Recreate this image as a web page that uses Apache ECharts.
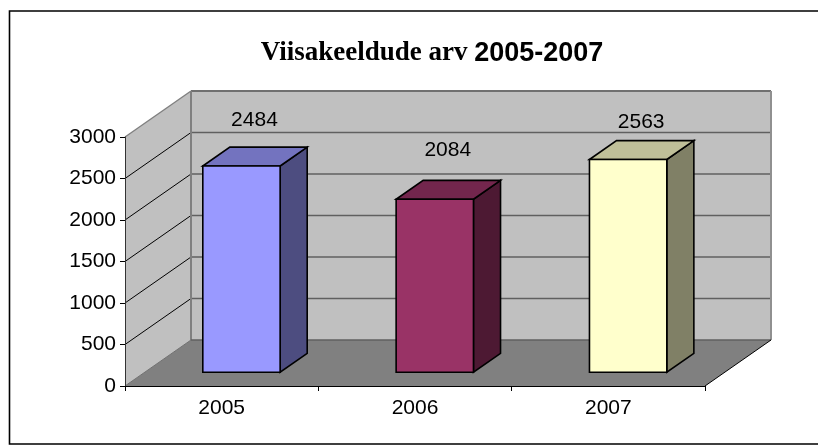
<!DOCTYPE html>
<html>
<head>
<meta charset="utf-8">
<style>html,body{margin:0;padding:0;background:#fff}#c{width:818px;height:448px}</style>
<script src="https://cdn.jsdelivr.net/npm/echarts@6/dist/echarts.min.js"></script>
</head>
<body>
<div id="c"></div>
<script>
const categories = ['2005', '2006', '2007'];
const values = [2484, 2084, 2563];
const yTicks = [0, 500, 1000, 1500, 2000, 2500, 3000];
const frontColors = ['#9999FF', '#993366', '#FFFFCC'];
const topColors = ['#7373BF', '#73264D', '#BFBF99'];
const sideColors = ['#4D4D80', '#4D1933', '#808066'];

// Oblique projection of the depth axis, in pixels
const DEPTH = { x: 66, y: -46 };
const GAP = 0.3;      // share of the floor depth in front of a bar
const BAR_DEPTH = 0.41;
const BAR_WIDTH = 0.4;
const labelRaise = [46, 49, 37];

function poly(points, fill, stroke, width, z2) {
  return {
    type: 'polygon', z2: z2 || 0,
    shape: { points: points },
    style: { fill: fill, stroke: stroke || null, lineWidth: width || 0, lineJoin: 'miter' }
  };
}
function line(a, b, stroke, width, z2) {
  return {
    type: 'line', z2: z2 || 0,
    shape: { x1: a[0], y1: a[1], x2: b[0], y2: b[1] },
    style: { stroke: stroke, lineWidth: width }
  };
}

function renderWalls(params, api) {
  const cs = params.coordSys;
  const L = cs.x, R = cs.x + cs.width;
  const y0 = api.coord([0, 0])[1];
  const yT = api.coord([0, 3000])[1];
  const dx = DEPTH.x, dy = DEPTH.y;
  const kids = [
    poly([[L + dx, yT + dy], [R + dx, yT + dy], [R + dx, y0 + dy], [L + dx, y0 + dy]], '#C0C0C0'),
    poly([[L, yT], [L + dx, yT + dy], [L + dx, y0 + dy], [L, y0]], '#C0C0C0'),
    poly([[L, y0], [L + dx, y0 + dy], [R + dx, y0 + dy], [R, y0]], '#808080')
  ];
  yTicks.forEach(function (t) {
    const y = api.coord([0, t])[1];
    if (t > 0 && t < 3000) {
      kids.push(line([L + dx, y + dy], [R + dx, y + dy], '#606060', 1.4, 1));
      kids.push(line([L, y], [L + dx, y + dy], '#000000', 1, 1));
    }
  });
  kids.push(line([L, yT], [L + dx, yT + dy], '#808080', 1.4, 2));
  kids.push(line([L + dx, yT + dy], [R + dx, yT + dy], '#707070', 2, 2));
  kids.push(line([L + dx, yT + dy], [L + dx, y0 + dy], '#808080', 2, 2));
  kids.push(line([R + dx, yT + dy], [R + dx, y0 + dy], '#909090', 2, 2));
  kids.push(line([L, y0], [L + dx, y0 + dy], '#707070', 1, 2));
  kids.push(line([L + dx, y0 + dy], [R + dx, y0 + dy], '#606060', 1.4, 2));
  kids.push(line([R, y0], [R + dx, y0 + dy], '#000000', 1, 2));
  return { type: 'group', children: kids };
}

function renderBar(params, api) {
  const i = api.value(0);
  const v = api.value(1);
  const top = api.coord([i, v]);
  const base = api.coord([i, 0]);
  const w = api.size([1, 0])[0] * BAR_WIDTH;
  const ox = DEPTH.x * GAP, oy = DEPTH.y * GAP;
  const ddx = DEPTH.x * BAR_DEPTH, ddy = DEPTH.y * BAR_DEPTH;
  const l = top[0] + ox - w / 2, r = l + w;
  const t = top[1] + oy, b = base[1] + oy;
  const lw = 1.6;
  return {
    type: 'group',
    children: [
      poly([[r, t], [r + ddx, t + ddy], [r + ddx, b + ddy], [r, b]], sideColors[i], '#000', lw),
      poly([[l, t], [l + ddx, t + ddy], [r + ddx, t + ddy], [r, t]], topColors[i], '#000', lw),
      poly([[l, t], [r, t], [r, b], [l, b]], frontColors[i], '#000', lw),
      {
        type: 'text', z2: 5,
        style: {
          x: (l + r) / 2 + 13, y: t - labelRaise[i],
          text: String(v), align: 'center', verticalAlign: 'middle',
          font: '21px "Liberation Sans"', fill: '#000'
        }
      }
    ]
  };
}

const chart = echarts.init(document.getElementById('c'), null, { renderer: 'canvas' });
chart.setOption({
  animation: false,
  backgroundColor: '#fff',
  title: {
    left: 427, top: 35, textAlign: 'center',
    text: '{a|Viisakeeldude arv }{b|2005-2007}',
    textStyle: {
      rich: {
        a: { fontFamily: 'Liberation Serif', fontWeight: 'bold', fontSize: 27, color: '#000' },
        b: { fontFamily: 'Liberation Sans', fontWeight: 'bold', fontSize: 27, color: '#000' }
      }
    }
  },
  graphic: [{
    type: 'rect', silent: true, z: -1,
    shape: { x: 9.5, y: 11, width: 830, height: 433 },
    style: { fill: 'none', stroke: '#000', lineWidth: 1.6 }
  }],
  grid: { left: 125, right: 113, top: 137, bottom: 62, containLabel: false },
  xAxis: {
    type: 'category', data: categories, z: 2,
    axisLine: { show: true, lineStyle: { color: '#000', width: 1 } },
    axisTick: { show: true, length: 5, alignWithLabel: false, lineStyle: { color: '#000' } },
    axisLabel: { color: '#000', fontFamily: 'Liberation Sans', fontSize: 21, margin: 12, interval: 0 },
    splitLine: { show: false }
  },
  yAxis: {
    type: 'value', min: 0, max: 3000, interval: 500, z: 2,
    axisLine: { show: true, lineStyle: { color: '#333', width: 1 } },
    axisTick: { show: true, length: 5, lineStyle: { color: '#000' } },
    axisLabel: { color: '#000', fontFamily: 'Liberation Sans', fontSize: 21, margin: 9, padding: [3, 0, 0, 0], formatter: function (v) { return String(v); } },
    splitLine: { show: false }
  },
  series: [
    { type: 'custom', z: 1, silent: true, renderItem: renderWalls, data: [[0, 0]], encode: { x: 0, y: 1 } },
    {
      type: 'custom', z: 3, silent: true, renderItem: renderBar,
      data: values.map(function (v, i) { return [i, v]; }),
      encode: { x: 0, y: 1 }
    }
  ]
});
</script>
</body>
</html>
